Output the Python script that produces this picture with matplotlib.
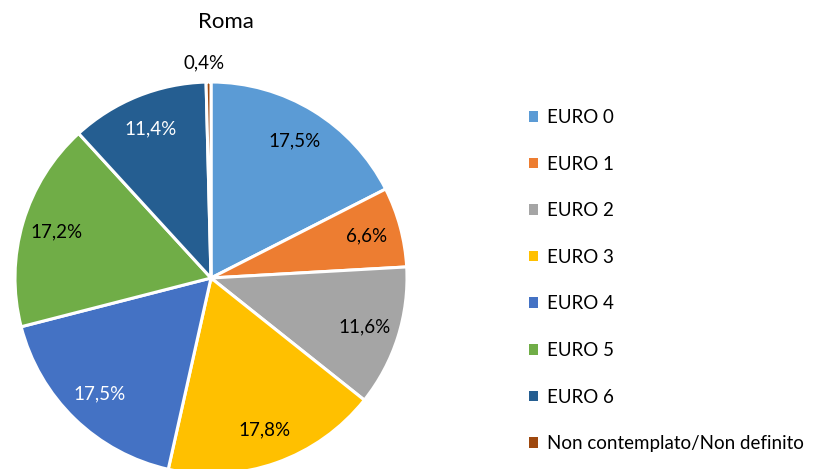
import matplotlib
matplotlib.use('Agg')
import matplotlib.pyplot as plt
from matplotlib.patches import Patch

plt.rcParams['font.family'] = ['Lato', 'DejaVu Sans']

categories = ['EURO 0', 'EURO 1', 'EURO 2', 'EURO 3', 'EURO 4', 'EURO 5', 'EURO 6',
              'Non contemplato/Non definito']
values = [17.5, 6.6, 11.6, 17.8, 17.5, 17.2, 11.4, 0.4]
colors = ['#5B9BD5', '#ED7D31', '#A5A5A5', '#FFC000', '#4472C4', '#70AD47', '#255E91', '#9E480E']
text_colors = ['black', 'black', 'black', 'black', 'white', 'black', 'white', 'black']

W, H = 833, 469
fig = plt.figure(figsize=(W / 100, H / 100), dpi=100)

# pie axes placed in pixels: centre (211, 278), radius 196
cx, cy, r = 211, 278, 196
ax = fig.add_axes([(cx - r) / W, (H - cy - r) / H, 2 * r / W, 2 * r / H])
wedges, texts, autotexts = ax.pie(
    values, colors=colors, startangle=90, counterclock=False,
    autopct=lambda p: ('%.1f%%' % p).replace('.', ','), pctdistance=0.82,
    wedgeprops=dict(edgecolor='white', linewidth=2.2),
    textprops=dict(fontsize=13.5), radius=1.0)
for w in wedges:
    w.set_clip_on(False)
for t, c in zip(autotexts, text_colors):
    t.set_color(c)
# smallest slice label sits outside the pie
x, y = autotexts[-1].get_position()
autotexts[-1].set_position((x * 1.1 / 0.82 - 0.02, y * 1.1 / 0.82))
ax.set_xlim(-1, 1); ax.set_ylim(-1, 1)
ax.set_aspect('equal')
ax.axis('off')

fig.text(226 / W, 1 - 22 / H, 'Roma', ha='center', va='center', fontsize=16)

handles = [Patch(facecolor=c, edgecolor='none') for c in colors]
fig.legend(handles, categories, loc='upper left', bbox_to_anchor=(512 / W, 1 - 92 / H),
           frameon=False, fontsize=13.5, handlelength=0.5, handleheight=0.5,
           handletextpad=0.45, labelspacing=1.58)

fig.savefig('out.png', dpi=100)
